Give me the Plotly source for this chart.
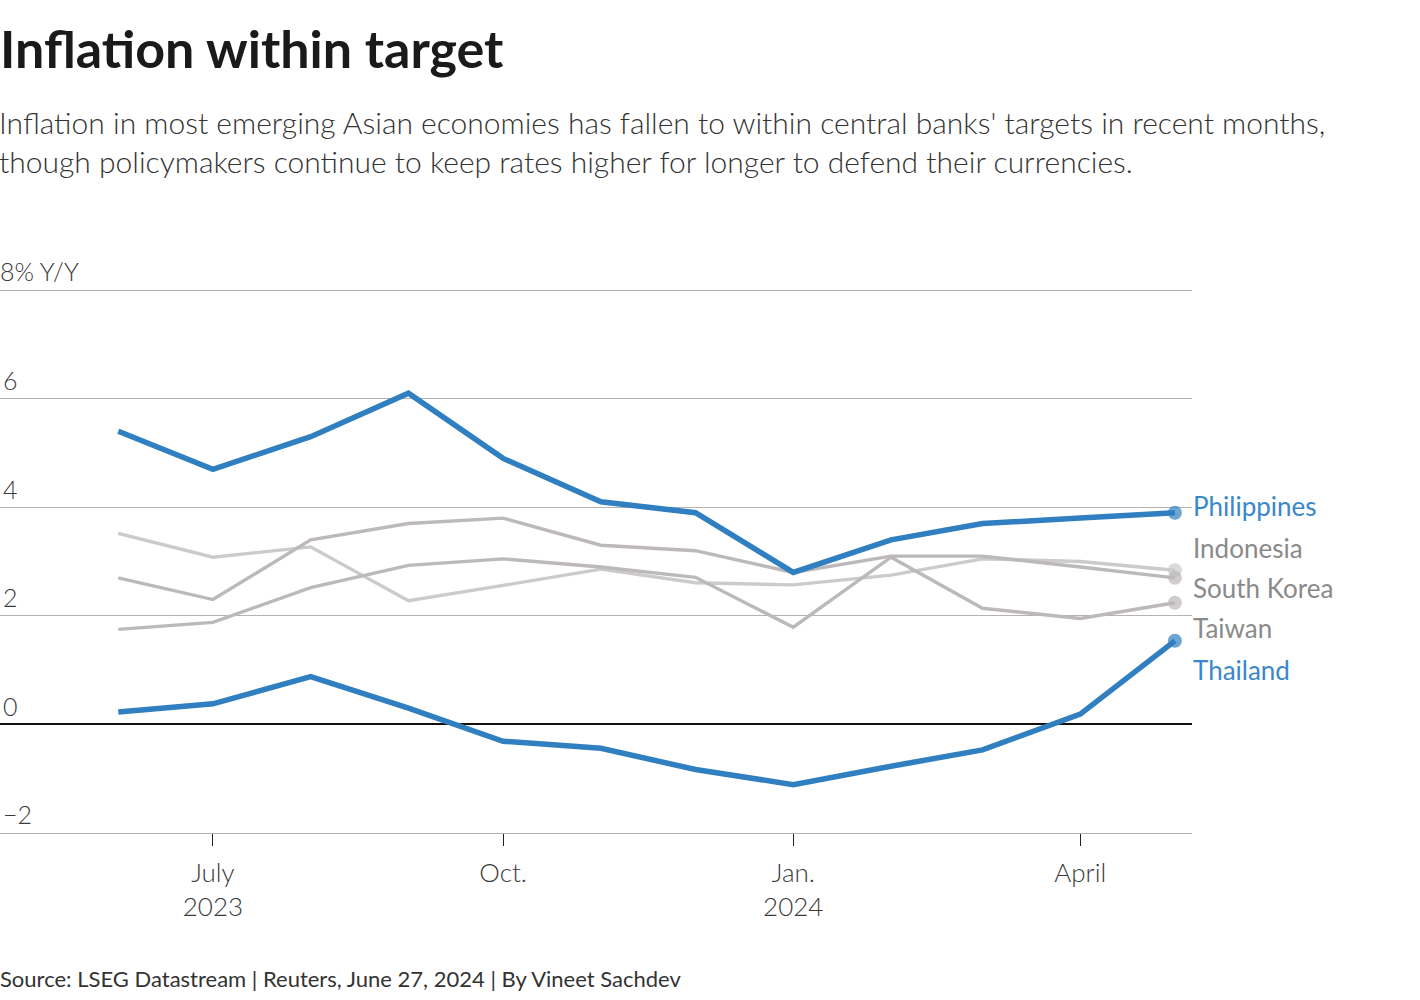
import plotly.graph_objects as go

months = ["2023-06-01", "2023-07-01", "2023-08-01", "2023-09-01", "2023-10-01", "2023-11-01",
          "2023-12-01", "2024-01-01", "2024-02-01", "2024-03-01", "2024-04-01", "2024-05-01"]

philippines = [5.4, 4.7, 5.3, 6.1, 4.9, 4.1, 3.9, 2.8, 3.4, 3.7, 3.8, 3.9]
indonesia = [3.52, 3.08, 3.27, 2.28, 2.56, 2.86, 2.61, 2.57, 2.75, 3.05, 3.00, 2.84]
south_korea = [2.7, 2.3, 3.4, 3.7, 3.8, 3.3, 3.2, 2.8, 3.1, 3.1, 2.9, 2.7]
taiwan = [1.75, 1.88, 2.52, 2.93, 3.05, 2.90, 2.71, 1.79, 3.08, 2.14, 1.95, 2.24]
thailand = [0.23, 0.38, 0.88, 0.30, -0.31, -0.44, -0.83, -1.11, -0.77, -0.47, 0.19, 1.54]

series_names = ["Indonesia", "South Korea", "Taiwan", "Philippines", "Thailand"]
label_y = {"Philippines": 4.03, "Indonesia": 3.25, "South Korea": 2.52, "Taiwan": 1.78, "Thailand": 1.01}

x_tick_vals = ["2023-07-01", "2023-10-01", "2024-01-01", "2024-04-01"]
x_tick_text = ["July<br>2023", "Oct.", "Jan.<br>2024", "April"]
y_tick_vals = [-2, 0, 2, 4, 6, 8]
y_tick_text = ["\u22122", "0", "2", "4", "6", ""]
y_top_label = "8% Y/Y"

BLUE = "#2f7fc1"
GRAY_A = "#cbcbcb"
GRAY_B = "#bcb8bc"
FONT = "Lato"
TICK_COLOR = "#3a3a3a"

styles = {
    "Indonesia": dict(data=indonesia, color=GRAY_A, width=3.4, label_color="#8a8a8a"),
    "South Korea": dict(data=south_korea, color=GRAY_B, width=3.4, label_color="#8a8a8a"),
    "Taiwan": dict(data=taiwan, color=GRAY_B, width=3.4, label_color="#8a8a8a"),
    "Philippines": dict(data=philippines, color=BLUE, width=5.5, label_color="#3a87c9"),
    "Thailand": dict(data=thailand, color=BLUE, width=5.5, label_color="#3a87c9"),
}

W, H = 1420, 1000
M_L, M_R, M_T, M_B = 0, 228, 289, 167
plot_h = H - M_T - M_B

def ypix(py):
    return (H - M_B - py) / plot_h

fig = go.Figure()
for name in series_names:
    s = styles[name]
    n = len(s["data"])
    fig.add_trace(go.Scatter(
        x=months, y=s["data"], mode="lines+markers", name=name,
        line=dict(color=s["color"], width=s["width"]),
        marker=dict(size=[0] * (n - 1) + [14], color=s["color"], line=dict(width=0)),
        hoverinfo="skip", showlegend=False,
    ))

for name in series_names:
    s = styles[name]
    fig.add_annotation(x=1.0, xref="paper", y=label_y[name], yref="y", text=name,
                       showarrow=False, xanchor="left", xshift=-1,
                       font=dict(family=FONT, size=26, color=s["label_color"]))

fig.add_annotation(x=0, xref="paper", y=8, yref="y", yanchor="bottom", xanchor="left",
                   text=y_top_label, showarrow=False, yshift=2, xshift=-2,
                   font=dict(family=FONT, size=25, color=TICK_COLOR, weight=300))

fig.add_annotation(
    x=0, xref="paper", y=ypix(48), yref="paper", xanchor="left", yanchor="middle",
    text="<b>Inflation within target</b>", showarrow=False, xshift=-2,
    font=dict(family=FONT, size=52, color="#1a1a1a"),
)
fig.add_annotation(
    x=0, xref="paper", y=ypix(141), yref="paper", xanchor="left", yanchor="middle",
    text="Inflation in most emerging Asian economies has fallen to within central banks' targets in recent months,<br>"
         "though policymakers continue to keep rates higher for longer to defend their currencies.",
    showarrow=False, align="left", xshift=-3,
    font=dict(family=FONT, size=30, color="#333333", weight=300),
)
fig.add_annotation(
    x=0, xref="paper", y=ypix(978), yref="paper", xanchor="left", yanchor="middle",
    text="Source: LSEG Datastream | Reuters, June 27, 2024 | By Vineet Sachdev",
    showarrow=False, align="left", xshift=-2,
    font=dict(family=FONT, size=22, color="#333333"),
)

fig.update_layout(
    width=W, height=H,
    margin=dict(l=M_L, r=M_R, t=M_T, b=M_B),
    paper_bgcolor="white", plot_bgcolor="white",
    font=dict(family=FONT, color="#333333"),
)

fig.update_xaxes(
    type="date", range=["2023-04-24 12:00", "2024-05-06 10:00"],
    tickvals=x_tick_vals, ticktext=x_tick_text,
    ticks="outside", ticklen=12, tickcolor="#222222", tickwidth=1,
    ticklabelstandoff=5,
    showgrid=False, showline=True, linecolor="#b3b3b3", linewidth=1, zeroline=False,
    tickfont=dict(family=FONT, size=26, color=TICK_COLOR, weight=300),
)
fig.update_yaxes(
    range=[-2, 8.02], tickvals=y_tick_vals, ticktext=y_tick_text,
    ticklabelposition="inside top", showgrid=True, gridcolor="#b3b3b3", gridwidth=1,
    zeroline=True, zerolinecolor="#111111", zerolinewidth=1.5,
    showline=False, ticks="",
    tickfont=dict(family=FONT, size=25, color=TICK_COLOR, weight=300),
)

fig.write_html("out.html", config={"displayModeBar": False},
               post_script="document.body.style.margin='0';")
